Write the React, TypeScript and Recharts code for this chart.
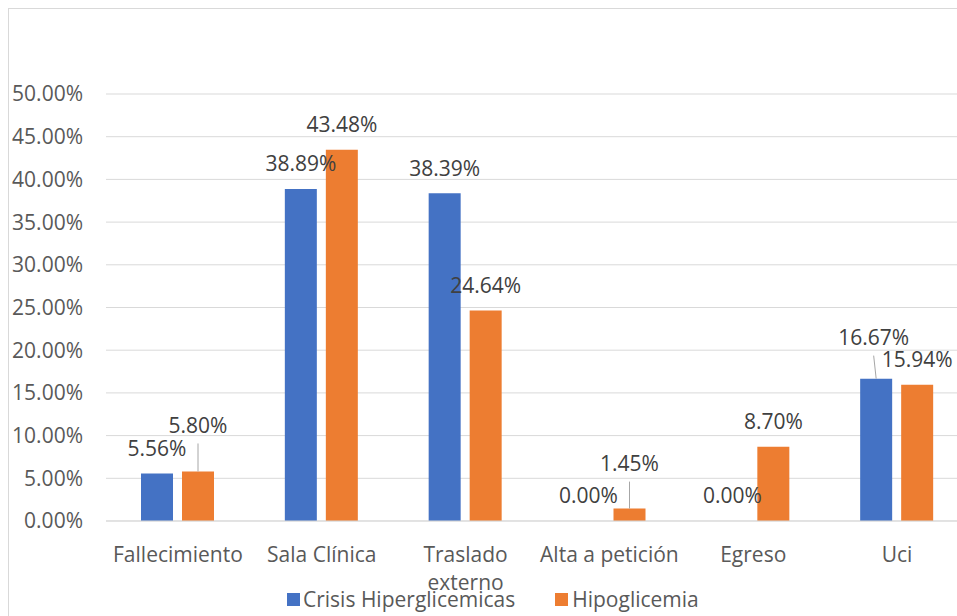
import { BarChart, Bar, XAxis, YAxis, CartesianGrid, LabelList } from "recharts";

const CATEGORIES = ["Fallecimiento", "Sala Clínica", "Traslado externo", "Alta a petición", "Egreso", "Uci"];
const CRISIS = [5.56, 38.89, 38.39, 0, 0, 16.67];
const HIPO = [5.8, 43.48, 24.64, 1.45, 8.7, 15.94];
const Y_TICKS = [0, 5, 10, 15, 20, 25, 30, 35, 40, 45, 50];

// manual label moves (Excel style), in px
const CRISIS_NUDGE = [[0, 0], [0, 0], [0, 0], [0, 0], [0, 0], [-2.5, -16]];
const HIPO_NUDGE = [[0, -21], [0, 0], [0, 0], [0, -20], [0, 0], [0, 0]];

const FONT = "'Open Sans', sans-serif";
const BLUE = "#4472C4";
const ORANGE = "#ED7D31";

const data = CATEGORIES.map((name, i) => ({ name, crisis: CRISIS[i], hipo: HIPO[i] }));

const fmt = (v: number) => `${v.toFixed(2)}%`;

let ctx: CanvasRenderingContext2D | null = null;
const measure = (s: string) => {
  if (!ctx) ctx = document.createElement("canvas").getContext("2d");
  if (!ctx) return s.length * 10;
  ctx.font = "21px 'Open Sans'";
  return ctx.measureText(s).width;
};

// wrap words into lines no wider than maxW
const wrap = (label: string, maxW: number) => {
  const lines: string[] = [];
  let cur = "";
  label.split(" ").forEach((w) => {
    const next = cur ? `${cur} ${w}` : w;
    if (cur && measure(next) > maxW) {
      lines.push(cur);
      cur = w;
    } else cur = next;
  });
  if (cur) lines.push(cur);
  return lines;
};

const CategoryTick = ({ x, y, payload }: any) => (
  <text x={x} y={y + 39} textAnchor="middle" fill="#595959" style={{ fontSize: 21, fontFamily: FONT }}>
    {wrap(String(payload.value), 145).map((ln, i) => (
      <tspan key={i} x={x} dy={i === 0 ? 0 : 28}>
        {ln}
      </tspan>
    ))}
  </text>
);

const makeLabel = (nudges: number[][]) => (props: any) => {
  const { x, y, width, value, index } = props;
  const cx = Number(x) + Number(width) / 2;
  const [dx, dy] = nudges[index] || [0, 0];
  const ly = Number(y) - 25 + dy;
  const lx = cx + dx;
  return (
    <g>
      {dy !== 0 && <line x1={cx} y1={Number(y)} x2={lx} y2={ly + 18} stroke="#a6a6a6" strokeWidth={1} />}
      <text x={lx} y={ly + 7.5} textAnchor="middle" fill="#404040" style={{ fontSize: 21, fontFamily: FONT }}>
        {fmt(Number(value))}
      </text>
    </g>
  );
};

export default function App() {
  return (
    <div style={{ position: "fixed", left: 0, top: 0, width: 957, height: 616, overflow: "hidden", background: "#fff", fontFamily: FONT }}>
      <div style={{ position: "absolute", left: 8, top: 8, width: 980, height: 640, border: "1px solid #d9d9d9", boxSizing: "border-box" }}>
        <BarChart
          width={960}
          height={620}
          data={data}
          margin={{ top: 85, right: 0, left: 0, bottom: 48 }}
          barSize={32}
          barGap={9}
        >
          <CartesianGrid vertical={false} stroke="#d9d9d9" />
          <XAxis
            dataKey="name"
            height={60}
            interval={0}
            axisLine={{ stroke: "#d9d9d9" }}
            tickLine={false}
            tickSize={0}
            tick={<CategoryTick />}
          />
          <YAxis
            width={97}
            domain={[0, 50]}
            ticks={Y_TICKS}
            tickFormatter={fmt}
            axisLine={false}
            tickLine={false}
            tickSize={0}
            tickMargin={23}
            tick={{ fill: "#595959", fontSize: 21, fontFamily: FONT }}
          />
          <Bar dataKey="crisis" fill={BLUE} minPointSize={0.01} isAnimationActive={false}>
            <LabelList dataKey="crisis" content={makeLabel(CRISIS_NUDGE)} />
          </Bar>
          <Bar dataKey="hipo" fill={ORANGE} isAnimationActive={false}>
            <LabelList dataKey="hipo" content={makeLabel(HIPO_NUDGE)} />
          </Bar>
        </BarChart>
      </div>
      <div style={{ position: "absolute", left: 287, top: 584, height: 30, lineHeight: "30px", display: "flex", alignItems: "center", fontSize: 21, color: "#595959" }}>
        <span style={{ width: 13, height: 13, background: BLUE, marginRight: 3 }} />
        <span>Crisis Hiperglicemicas</span>
        <span style={{ width: 13, height: 13, background: ORANGE, marginLeft: 40, marginRight: 4 }} />
        <span>Hipoglicemia</span>
      </div>
    </div>
  );
}
